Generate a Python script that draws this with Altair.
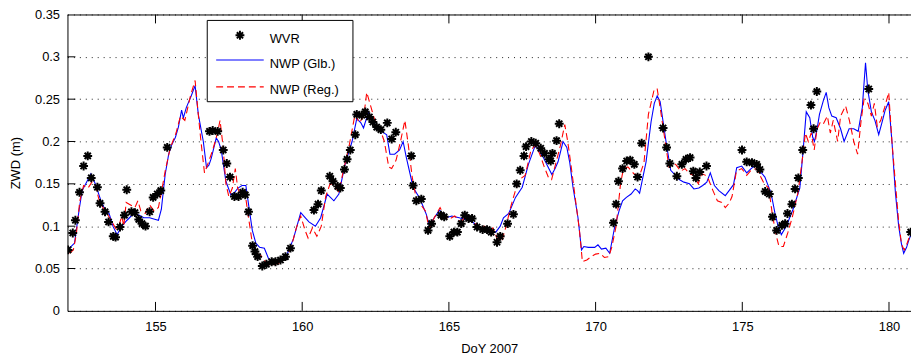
import altair as alt
import pandas as pd

# ---------------- data ----------------
wvr_doy = [152.02, 152.18, 152.27, 152.41, 152.55, 152.69, 152.81, 153.02, 153.11, 153.28,
           153.40, 153.56, 153.64, 153.79, 153.94, 154.02, 154.18, 154.30, 154.43, 154.54,
           154.66, 154.80, 154.92, 155.06, 155.18, 155.40, 156.84, 156.95, 157.12, 157.31,
           157.43, 157.54, 157.69, 157.83, 157.97, 158.06, 158.17, 158.31, 158.39, 158.48,
           158.64, 158.78, 158.96, 159.09, 159.26, 159.43, 159.60, 160.40, 160.54, 160.65,
           160.94, 161.05, 161.21, 161.30, 161.44, 161.53, 161.64, 161.81, 161.86, 162.03,
           162.15, 162.29, 162.41, 162.54, 162.68, 162.90, 163.05, 163.19, 163.72, 163.78,
           163.89, 164.06, 164.29, 164.41, 164.73, 164.84, 165.03, 165.17, 165.29, 165.42,
           165.54, 165.67, 165.79, 165.96, 166.15, 166.30, 166.44, 166.64, 166.75, 167.00,
           167.20, 167.31, 167.43, 167.56, 167.63, 167.81, 167.96, 168.13, 168.26, 168.41,
           168.47, 168.53, 168.67, 168.76, 170.61, 170.70, 170.78, 170.92, 171.06, 171.18,
           171.32, 171.43, 171.57, 171.80, 172.30, 172.42, 172.53, 172.77, 172.94, 173.08,
           173.22, 173.33, 173.42, 173.55, 173.78, 174.99, 175.15, 175.33, 175.49, 175.60,
           175.78, 175.92, 176.03, 176.17, 176.35, 176.46, 176.54, 176.69, 176.80, 176.91,
           177.06, 177.34, 177.43, 177.54, 179.31, 180.74]
wvr_zwd = [0.072, 0.092, 0.107, 0.140, 0.171, 0.183, 0.157, 0.146, 0.127, 0.117,
           0.105, 0.088, 0.087, 0.099, 0.113, 0.143, 0.117, 0.116, 0.108, 0.103,
           0.100, 0.117, 0.134, 0.138, 0.142, 0.193, 0.212, 0.213, 0.212, 0.190,
           0.174, 0.158, 0.135, 0.135, 0.140, 0.137, 0.117, 0.077, 0.070, 0.064,
           0.053, 0.055, 0.058, 0.058, 0.060, 0.064, 0.074, 0.119, 0.126, 0.142,
           0.159, 0.153, 0.147, 0.145, 0.167, 0.179, 0.190, 0.208, 0.232, 0.231,
           0.235, 0.229, 0.223, 0.217, 0.214, 0.222, 0.203, 0.211, 0.183, 0.148,
           0.130, 0.132, 0.095, 0.103, 0.113, 0.111, 0.088, 0.093, 0.093, 0.103,
           0.113, 0.109, 0.109, 0.099, 0.096, 0.096, 0.093, 0.081, 0.088, 0.103,
           0.114, 0.150, 0.166, 0.183, 0.194, 0.200, 0.198, 0.192, 0.186, 0.179,
           0.177, 0.186, 0.201, 0.221, 0.104, 0.126, 0.153, 0.168, 0.177, 0.178,
           0.173, 0.158, 0.198, 0.300, 0.216, 0.193, 0.174, 0.159, 0.173, 0.179,
           0.181, 0.165, 0.157, 0.164, 0.171, 0.190, 0.176, 0.175, 0.173, 0.167,
           0.141, 0.138, 0.111, 0.095, 0.101, 0.103, 0.115, 0.126, 0.144, 0.157,
           0.190, 0.243, 0.215, 0.259, 0.262, 0.093]

glb_doy = [152.07, 152.24, 152.40, 152.50, 152.65, 152.80, 152.95, 153.14, 153.30, 153.42,
           153.55, 153.69, 153.85, 154.03, 154.26, 154.45, 154.60, 154.80, 155.00, 155.10,
           155.20, 155.33, 155.45, 155.55, 155.68, 155.78, 155.89, 155.95, 156.05, 156.22,
           156.35, 156.46, 156.55, 156.63, 156.74, 156.82, 156.90, 157.07, 157.15, 157.24,
           157.40, 157.57, 157.70, 157.81, 157.95, 158.08, 158.20, 158.30, 158.42, 158.55,
           158.71, 158.85, 159.05, 159.20, 159.35, 159.50, 159.70, 159.95, 160.10, 160.23,
           160.45, 160.63, 160.75, 160.85, 161.08, 161.25, 161.46, 161.70, 161.86, 162.00,
           162.09, 162.26, 162.43, 162.60, 162.71, 162.88, 162.99, 163.15, 163.32, 163.44,
           163.55, 163.78, 163.99, 164.10, 164.23, 164.34, 164.50, 164.68, 164.91, 165.10,
           165.35, 165.55, 165.80, 166.00, 166.26, 166.45, 166.60, 166.75, 166.86, 167.04,
           167.27, 167.50, 167.71, 167.95, 168.10, 168.22, 168.38, 168.51, 168.62, 168.72,
           168.89, 169.02, 169.12, 169.23, 169.33, 169.40, 169.52, 169.60, 169.75, 169.97,
           170.08, 170.20, 170.35, 170.48, 170.65, 170.80, 170.92, 171.05, 171.21, 171.35,
           171.43, 171.50, 171.72, 171.89, 172.00, 172.10, 172.20, 172.40, 172.56, 172.70,
           172.85, 173.01, 173.20, 173.35, 173.52, 173.65, 173.79, 173.91, 174.05, 174.20,
           174.42, 174.55, 174.70, 174.81, 174.98, 175.15, 175.30, 175.48, 175.60, 175.77,
           175.98, 176.11, 176.22, 176.33, 176.50, 176.73, 176.96, 177.07, 177.18, 177.30,
           177.40, 177.46, 177.55, 177.63, 177.76, 177.86, 177.95, 178.05, 178.20, 178.35,
           178.47, 178.64, 178.80, 178.95, 179.09, 179.20, 179.28, 179.40, 179.52, 179.65,
           179.78, 179.87, 179.99, 180.10, 180.22, 180.33, 180.42, 180.50, 180.60, 180.67,
           180.75]
glb_zwd = [0.074, 0.080, 0.120, 0.142, 0.152, 0.162, 0.150, 0.130, 0.118, 0.115,
           0.100, 0.090, 0.100, 0.107, 0.115, 0.113, 0.110, 0.110, 0.108, 0.107,
           0.120, 0.161, 0.185, 0.196, 0.205, 0.217, 0.237, 0.228, 0.240, 0.254,
           0.266, 0.232, 0.215, 0.200, 0.169, 0.172, 0.180, 0.204, 0.200, 0.190,
           0.153, 0.137, 0.140, 0.145, 0.148, 0.148, 0.119, 0.095, 0.080, 0.075,
           0.074, 0.062, 0.057, 0.058, 0.062, 0.068, 0.085, 0.116, 0.110, 0.105,
           0.100, 0.110, 0.125, 0.138, 0.130, 0.138, 0.173, 0.200, 0.227, 0.222,
           0.216, 0.235, 0.223, 0.215, 0.212, 0.208, 0.185, 0.185, 0.190, 0.200,
           0.181, 0.146, 0.134, 0.125, 0.114, 0.100, 0.110, 0.119, 0.110, 0.112,
           0.110, 0.108, 0.105, 0.100, 0.095, 0.093, 0.093, 0.100, 0.110, 0.115,
           0.134, 0.146, 0.173, 0.196, 0.188, 0.181, 0.170, 0.161, 0.168, 0.176,
           0.200, 0.193, 0.175, 0.146, 0.125, 0.110, 0.072, 0.076, 0.075, 0.075,
           0.078, 0.073, 0.074, 0.068, 0.099, 0.118, 0.130, 0.134, 0.138, 0.144,
           0.142, 0.139, 0.176, 0.223, 0.245, 0.254, 0.247, 0.200, 0.166, 0.161,
           0.155, 0.152, 0.150, 0.144, 0.145, 0.148, 0.152, 0.163, 0.148, 0.142,
           0.136, 0.142, 0.149, 0.169, 0.171, 0.163, 0.168, 0.173, 0.165, 0.158,
           0.139, 0.116, 0.100, 0.090, 0.100, 0.120, 0.145, 0.188, 0.235, 0.228,
           0.205, 0.200, 0.215, 0.232, 0.248, 0.258, 0.240, 0.230, 0.228, 0.215,
           0.200, 0.215, 0.215, 0.212, 0.240, 0.293, 0.260, 0.235, 0.225, 0.208,
           0.225, 0.237, 0.247, 0.200, 0.139, 0.100, 0.080, 0.068, 0.075, 0.083,
           0.090]

reg_doy = [152.07, 152.20, 152.30, 152.42, 152.55, 152.70, 152.85, 152.95, 153.10, 153.25,
           153.40, 153.55, 153.65, 153.75, 153.85, 153.92, 154.00, 154.15, 154.30, 154.40,
           154.50, 154.65, 154.80, 154.95, 155.10, 155.20, 155.33, 155.50, 155.70, 155.85,
           156.00, 156.20, 156.35, 156.45, 156.55, 156.67, 156.80, 156.95, 157.10, 157.20,
           157.30, 157.40, 157.50, 157.62, 157.72, 157.80, 157.90, 158.05, 158.15, 158.30,
           158.45, 158.60, 158.75, 158.90, 159.05, 159.20, 159.40, 159.60, 159.80, 159.95,
           160.10, 160.20, 160.35, 160.50, 160.65, 160.80, 160.95, 161.10, 161.25, 161.40,
           161.60, 161.80, 161.95, 162.10, 162.20, 162.35, 162.50, 162.65, 162.80, 162.95,
           163.05, 163.20, 163.35, 163.50, 163.62, 163.75, 163.90, 164.05, 164.20, 164.33,
           164.50, 164.70, 164.85, 165.00, 165.20, 165.40, 165.60, 165.80, 166.00, 166.20,
           166.40, 166.50, 166.65, 166.80, 166.95, 167.10, 167.25, 167.40, 167.60, 167.80,
           167.95, 168.10, 168.25, 168.40, 168.50, 168.65, 168.80, 168.95, 169.05, 169.15,
           169.30, 169.45, 169.55, 169.70, 169.85, 170.00, 170.15, 170.30, 170.45, 170.55,
           170.70, 170.85, 170.95, 171.10, 171.30, 171.50, 171.65, 171.80, 172.00, 172.10,
           172.20, 172.35, 172.50, 172.65, 172.75, 172.90, 173.05, 173.20, 173.35, 173.50,
           173.62, 173.75, 173.85, 174.00, 174.15, 174.30, 174.42, 174.55, 174.65, 174.80,
           174.98, 175.15, 175.30, 175.48, 175.60, 175.75, 175.90, 176.02, 176.15, 176.25,
           176.40, 176.55, 176.70, 176.90, 177.05, 177.15, 177.25, 177.35, 177.45, 177.55,
           177.65, 177.75, 177.90, 178.00, 178.10, 178.25, 178.35, 178.52, 178.65, 178.80,
           178.93, 179.05, 179.15, 179.28, 179.40, 179.50, 179.60, 179.72, 179.85, 179.99,
           180.10, 180.22, 180.33, 180.43, 180.52, 180.62, 180.75]
reg_zwd = [0.068, 0.072, 0.090, 0.130, 0.148, 0.145, 0.153, 0.148, 0.128, 0.120,
           0.112, 0.103, 0.097, 0.100, 0.112, 0.100, 0.128, 0.125, 0.122, 0.130,
           0.118, 0.115, 0.125, 0.118, 0.122, 0.140, 0.165, 0.192, 0.210, 0.230,
           0.225, 0.255, 0.272, 0.235, 0.200, 0.163, 0.175, 0.190, 0.208, 0.225,
           0.195, 0.150, 0.135, 0.145, 0.168, 0.145, 0.137, 0.140, 0.115, 0.080,
           0.068, 0.065, 0.058, 0.053, 0.055, 0.056, 0.062, 0.072, 0.098, 0.112,
           0.095, 0.086, 0.098, 0.088, 0.100, 0.135, 0.150, 0.148, 0.140, 0.165,
           0.195, 0.232, 0.222, 0.230, 0.258, 0.240, 0.222, 0.215, 0.200, 0.170,
           0.168, 0.178, 0.200, 0.225, 0.195, 0.158, 0.130, 0.125, 0.118, 0.097,
           0.110, 0.122, 0.112, 0.108, 0.112, 0.105, 0.112, 0.108, 0.098, 0.100,
           0.093, 0.098, 0.085, 0.082, 0.100, 0.122, 0.140, 0.155, 0.160, 0.190,
           0.196, 0.185, 0.170, 0.157, 0.155, 0.175, 0.195, 0.220, 0.200, 0.175,
           0.135, 0.095, 0.058, 0.060, 0.064, 0.067, 0.068, 0.063, 0.064, 0.075,
           0.100, 0.150, 0.168, 0.170, 0.162, 0.160, 0.175, 0.232, 0.262, 0.262,
           0.240, 0.205, 0.170, 0.175, 0.172, 0.165, 0.168, 0.162, 0.160, 0.150,
           0.162, 0.160, 0.155, 0.142, 0.130, 0.128, 0.122, 0.127, 0.135, 0.165,
           0.168, 0.160, 0.166, 0.168, 0.160, 0.150, 0.145, 0.115, 0.090, 0.076,
           0.076, 0.092, 0.110, 0.140, 0.180, 0.210, 0.200, 0.210, 0.190, 0.215,
           0.222, 0.220, 0.230, 0.210, 0.225, 0.200, 0.230, 0.242, 0.225, 0.200,
           0.185, 0.225, 0.250, 0.245, 0.230, 0.245, 0.218, 0.225, 0.240, 0.258,
           0.200, 0.150, 0.105, 0.078, 0.072, 0.080, 0.093]

x_ticks = [155, 160, 165, 170, 175, 180]
y_ticks = [0, 0.05, 0.1, 0.15, 0.2, 0.25, 0.3, 0.35]

legend_labels = ["WVR", "NWP (Glb.)", "NWP (Reg.)"]

# ---------------- chart ----------------
W, H = 851, 299
TOP = 5
FONT = "Liberation Sans"
ASTERISK = "M-1,0L1,0M0,-1L0,1M-0.7,-0.7L0.7,0.7M-0.7,0.7L0.7,-0.7"

xs = alt.Scale(domain=[152, 180.75], nice=False, zero=False)
ys = alt.Scale(domain=[0, 0.35], nice=False, zero=False)

xaxis = alt.Axis(values=x_ticks, title="DoY 2007", ticks=False, grid=False,
                 labelPadding=10, titlePadding=9, domainColor="black",
                 labelFont=FONT, titleFont=FONT, labelFontSize=13, titleFontSize=13,
                 titleFontWeight="normal", labelColor="black", titleColor="black")
yaxis = alt.Axis(values=y_ticks, format=".2~f", title="ZWD (m)", ticks=False,
                 grid=True, gridDash=[1, 5], gridColor="#222222", gridWidth=1,
                 labelPadding=8, titlePadding=12, domainColor="black",
                 labelFont=FONT, titleFont=FONT, labelFontSize=13, titleFontSize=13,
                 titleFontWeight="normal", labelColor="black", titleColor="black")

wvr_df = pd.DataFrame({"doy": wvr_doy, "zwd": wvr_zwd})
glb_df = pd.DataFrame({"doy": glb_doy, "zwd": glb_zwd})
reg_df = pd.DataFrame({"doy": reg_doy, "zwd": reg_zwd})

X = alt.X("doy:Q", scale=xs, axis=xaxis)
Y = alt.Y("zwd:Q", scale=ys, axis=yaxis)

glb = alt.Chart(glb_df).mark_line(color="#0000ff", strokeWidth=1.1, clip=True).encode(x=X, y=Y, order="doy:Q")
reg = alt.Chart(reg_df).mark_line(color="#ff0000", strokeWidth=1.1, strokeDash=[7, 4], clip=True).encode(x=X, y=Y, order="doy:Q")
wvr = alt.Chart(wvr_df).mark_point(shape=ASTERISK, filled=False, color="black", opacity=1,
                                   strokeWidth=2, size=80, clip=True).encode(x=X, y=Y)

# inward ticks (MATLAB style) and top border
xt_df = pd.DataFrame({"doy": x_ticks})
yt_df = pd.DataFrame({"zwd": y_ticks[1:-1]})
one = pd.DataFrame({"k": [0]})

xt_bottom = alt.Chart(xt_df).mark_rule(color="black", strokeWidth=1).encode(
    x=X, y=alt.value(H), y2=alt.value(H - 9))
xt_top = alt.Chart(xt_df).mark_rule(color="black", strokeWidth=1).encode(
    x=X, y=alt.value(0), y2=alt.value(9))
yt_left = alt.Chart(yt_df).mark_rule(color="black", strokeWidth=1).encode(
    y=Y, x=alt.value(0), x2=alt.value(8))
top_border = alt.Chart(one).mark_rule(color="black", strokeWidth=1).encode(
    x=alt.value(0), x2=alt.value(W + 5), y=alt.value(0.5))

# legend box
leg_box = alt.Chart(one).mark_rect(fill="white", stroke="black", strokeWidth=1).encode(
    x=alt.value(141), x2=alt.value(288), y=alt.value(6), y2=alt.value(88))
leg_star = alt.Chart(one).mark_point(shape=ASTERISK, filled=False, color="black", opacity=1,
                                     strokeWidth=2, size=80).encode(
    x=alt.value(174), y=alt.value(21))
leg_glb = alt.Chart(one).mark_rule(color="#0000ff", strokeWidth=1.1).encode(
    x=alt.value(150), x2=alt.value(198), y=alt.value(46))
leg_reg = alt.Chart(one).mark_rule(color="#ff0000", strokeWidth=1.1, strokeDash=[7, 4]).encode(
    x=alt.value(150), x2=alt.value(198), y=alt.value(73))
leg_texts = [
    alt.Chart(one).mark_text(text=lbl, align="left", baseline="middle", font=FONT,
                             fontSize=13, color="black").encode(
        x=alt.value(204), y=alt.value(yy))
    for lbl, yy in zip(legend_labels, [25, 50, 76])
]

chart = alt.layer(
    glb, reg, wvr, xt_bottom, xt_top, yt_left, top_border,
    leg_box, leg_star, leg_glb, leg_reg, *leg_texts
).properties(
    width=W, height=H,
    autosize=alt.AutoSizeParams(type="none"),
    padding={"left": 60, "top": TOP, "right": 0, "bottom": 43},
    background="white",
).configure_view(stroke=None)

chart.save("out.html", embed_options={"renderer": "svg", "actions": False})
